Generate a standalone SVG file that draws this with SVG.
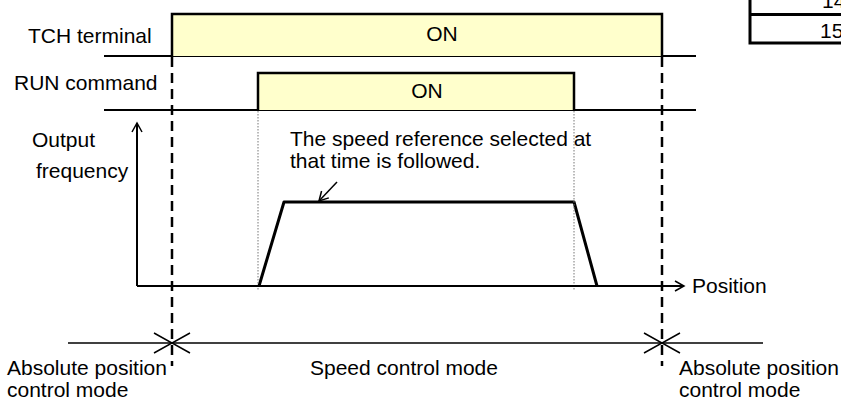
<svg xmlns="http://www.w3.org/2000/svg" width="841" height="403" viewBox="0 0 841 403">
<defs>
<style>
text{font-family:"Liberation Sans",Arial,sans-serif;font-size:21px;fill:#000}
.box{fill:#FFFFCC;stroke:#000;stroke-width:2.5}
.base{stroke:#000;stroke-width:2;fill:none}
.dash{stroke:#000;stroke-width:2.5;stroke-dasharray:10 6;fill:none}
.dot{stroke:#777;stroke-width:1;stroke-dasharray:1.5 1.5;fill:none}
.thin{stroke:#000;stroke-width:1.5;fill:none}
.wave{stroke:#000;stroke-width:3;fill:none;stroke-linejoin:round}
</style>
<marker id="ah" markerWidth="12" markerHeight="12" refX="10" refY="6" orient="auto" markerUnits="userSpaceOnUse">
<path d="M1,1 L10,6 L1,11" fill="none" stroke="#000" stroke-width="1.5"/>
</marker>
</defs>
<g id="table">
<path d="M750,0 V43 H841 M750,14.5 H841" fill="none" stroke="#000" stroke-width="3"/>
<text x="822" y="8">14</text>
<text x="820" y="38">15</text>
</g>
<g id="tch">
<text x="28" y="43">TCH terminal</text>
<line class="base" x1="104" y1="56" x2="696" y2="56"/>
<path class="box" d="M172,56 V14 H662 V56"/>
<text x="442" y="41" text-anchor="middle">ON</text>
</g>
<g id="run">
<text x="14" y="90">RUN command</text>
<line class="base" x1="104" y1="110" x2="696" y2="110"/>
<path class="box" d="M258,110 V73 H574 V110"/>
<text x="427" y="98" text-anchor="middle">ON</text>
</g>
<g id="freq">
<text x="32" y="147">Output</text>
<text x="36" y="178">frequency</text>
<text x="692" y="293">Position</text>
<text x="290" y="146">The speed reference selected at</text>
<text x="290" y="168">that time is followed.</text>
<path class="wave" d="M259,286 L284,202 H574 L597,286"/>
</g>
<g id="modes">
<text x="7" y="375">Absolute position</text>
<text x="7" y="397">control mode</text>
<text x="310" y="375">Speed control mode</text>
<text x="679" y="375">Absolute position</text>
<text x="679" y="397">control mode</text>
</g>
<g id="connectors">
<line class="dash" x1="172" y1="57" x2="172" y2="366"/>
<line class="dash" x1="662" y1="57" x2="662" y2="366"/>
<line class="dot" x1="258" y1="111" x2="258" y2="290"/>
<line class="dot" x1="574" y1="111" x2="574" y2="290"/>
<line class="base" x1="137" y1="286" x2="137" y2="123" marker-end="url(#ah)"/>
<line class="base" x1="137" y1="286" x2="684" y2="286" marker-end="url(#ah)"/>
<line class="thin" x1="337" y1="182" x2="319" y2="201" marker-end="url(#ah)"/>
<line class="thin" x1="68" y1="343" x2="763" y2="343"/>
<path class="thin" d="M154,333 L172,343 L154,353 M190,333 L172,343 L190,353"/>
<path class="thin" d="M644,333 L662,343 L644,353 M680,333 L662,343 L680,353"/>
</g>
</svg>
